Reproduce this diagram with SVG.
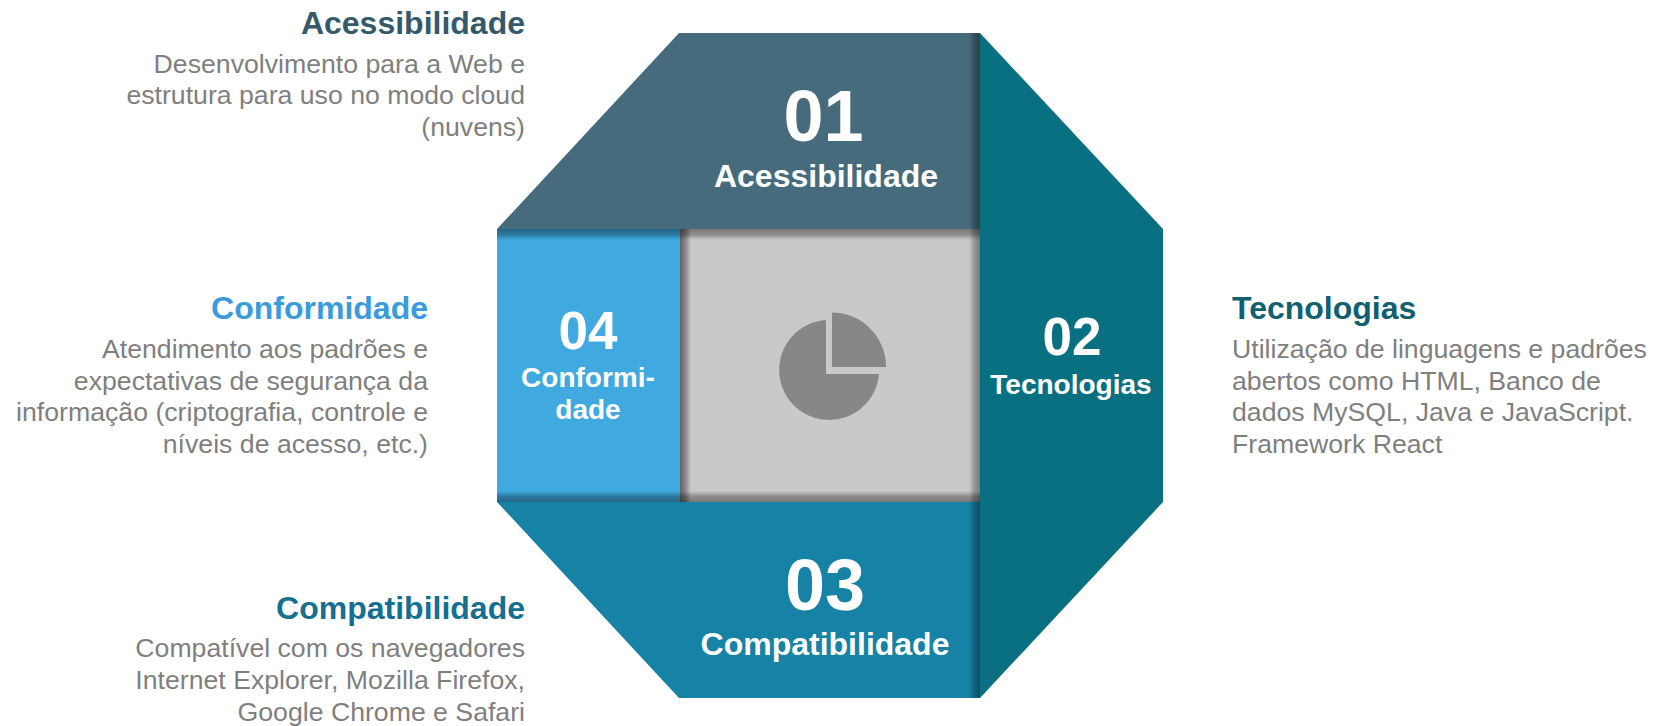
<svg xmlns="http://www.w3.org/2000/svg" width="1657" height="726" viewBox="0 0 1657 726">
<style>
text{font-family:"Liberation Sans",Arial,sans-serif}
.num{font-weight:700;fill:#fff;text-anchor:middle}
.lab{font-weight:700;fill:#fff;text-anchor:middle}
.h{font-weight:700;font-size:32px}
.d{font-size:26.67px;fill:#7f7f7f}
.e{text-anchor:end}
</style>
<defs>
<linearGradient id="sd" x1="0" y1="0" x2="0" y2="1"><stop offset="0" stop-color="#000" stop-opacity=".4"/><stop offset=".5" stop-color="#000" stop-opacity=".3"/><stop offset="1" stop-color="#000" stop-opacity="0"/></linearGradient>
<linearGradient id="su" x1="0" y1="1" x2="0" y2="0"><stop offset="0" stop-color="#000" stop-opacity=".4"/><stop offset=".5" stop-color="#000" stop-opacity=".3"/><stop offset="1" stop-color="#000" stop-opacity="0"/></linearGradient>
<linearGradient id="sr" x1="0" y1="0" x2="1" y2="0"><stop offset="0" stop-color="#000" stop-opacity=".5"/><stop offset=".5" stop-color="#000" stop-opacity=".32"/><stop offset="1" stop-color="#000" stop-opacity="0"/></linearGradient>
<linearGradient id="sl" x1="1" y1="0" x2="0" y2="0"><stop offset="0" stop-color="#000" stop-opacity=".4"/><stop offset=".5" stop-color="#000" stop-opacity=".25"/><stop offset="1" stop-color="#000" stop-opacity="0"/></linearGradient>
</defs>
<g id="node-center">
<rect x="680" y="229" width="300" height="273" fill="#c9c9c9"/>
<rect x="680" y="229" width="300" height="11" fill="url(#sd)"/>
<rect x="680" y="491" width="300" height="11" fill="url(#su)"/>
<rect x="680" y="229" width="11" height="273" fill="url(#sr)"/>
<rect x="969" y="229" width="11" height="273" fill="url(#sl)"/>
<path d="M826 320A50 50 0 1 0 879 374H826Z" fill="#878787"/>
<path d="M832 312.500C862 312.500 886 337 886 367H832Z" fill="#878787"/>
</g>
<g id="node-04">
<rect x="497" y="229" width="183" height="273" fill="#3fa9e0"/>
<rect x="497" y="229" width="183" height="11" fill="url(#sd)"/>
<rect x="497" y="491" width="183" height="11" fill="url(#su)"/>
<text class="num" x="588" y="349" font-size="53">04</text>
<text class="lab" x="588" y="387" font-size="28">Conformi-</text>
<text class="lab" x="588" y="419" font-size="28">dade</text>
</g>
<g id="node-01">
<path d="M679 33H980V229H497Z" fill="#466b7c"/>
<rect x="969" y="33" width="11" height="196" fill="url(#sl)"/>
<text class="num" x="823.500" y="141" font-size="72">01</text>
<text class="lab" x="826" y="187" font-size="32">Acessibilidade</text>
</g>
<g id="node-03">
<path d="M497 502H980V698H679Z" fill="#1582a6"/>
<rect x="969" y="502" width="11" height="196" fill="url(#sl)"/>
<text class="num" x="825" y="610" font-size="72">03</text>
<text class="lab" x="825" y="655" font-size="32">Compatibilidade</text>
</g>
<g id="node-02">
<path d="M980 33L1163 229V502L980 698Z" fill="#097082"/>
<text class="num" x="1072" y="355" font-size="53">02</text>
<text class="lab" x="1071" y="394" font-size="28">Tecnologias</text>
</g>
<g id="text-acessibilidade">
<text class="h e" x="525" y="34" fill="#34596b">Acessibilidade</text>
<text class="d e" x="525" y="73">Desenvolvimento para a Web e</text>
<text class="d e" x="525" y="104">estrutura para uso no modo cloud</text>
<text class="d e" x="525" y="136">(nuvens)</text>
</g>
<g id="text-conformidade">
<text class="h e" x="428" y="319" fill="#3a9bdc">Conformidade</text>
<text class="d e" x="428" y="358">Atendimento aos padrões e</text>
<text class="d e" x="428" y="390">expectativas de segurança da</text>
<text class="d e" x="428" y="421">informação (criptografia, controle e</text>
<text class="d e" x="428" y="453">níveis de acesso, etc.)</text>
</g>
<g id="text-compatibilidade">
<text class="h e" x="525" y="619" fill="#166f91">Compatibilidade</text>
<text class="d e" x="525" y="657">Compatível com os navegadores</text>
<text class="d e" x="525" y="689">Internet Explorer, Mozilla Firefox,</text>
<text class="d e" x="525" y="721">Google Chrome e Safari</text>
</g>
<g id="text-tecnologias">
<text class="h" x="1232" y="319" fill="#106070">Tecnologias</text>
<text class="d" x="1232" y="358">Utilização de linguagens e padrões</text>
<text class="d" x="1232" y="390">abertos como HTML, Banco de</text>
<text class="d" x="1232" y="421">dados MySQL, Java e JavaScript.</text>
<text class="d" x="1232" y="453">Framework React</text>
</g>
<g id="connectors"/>
</svg>
